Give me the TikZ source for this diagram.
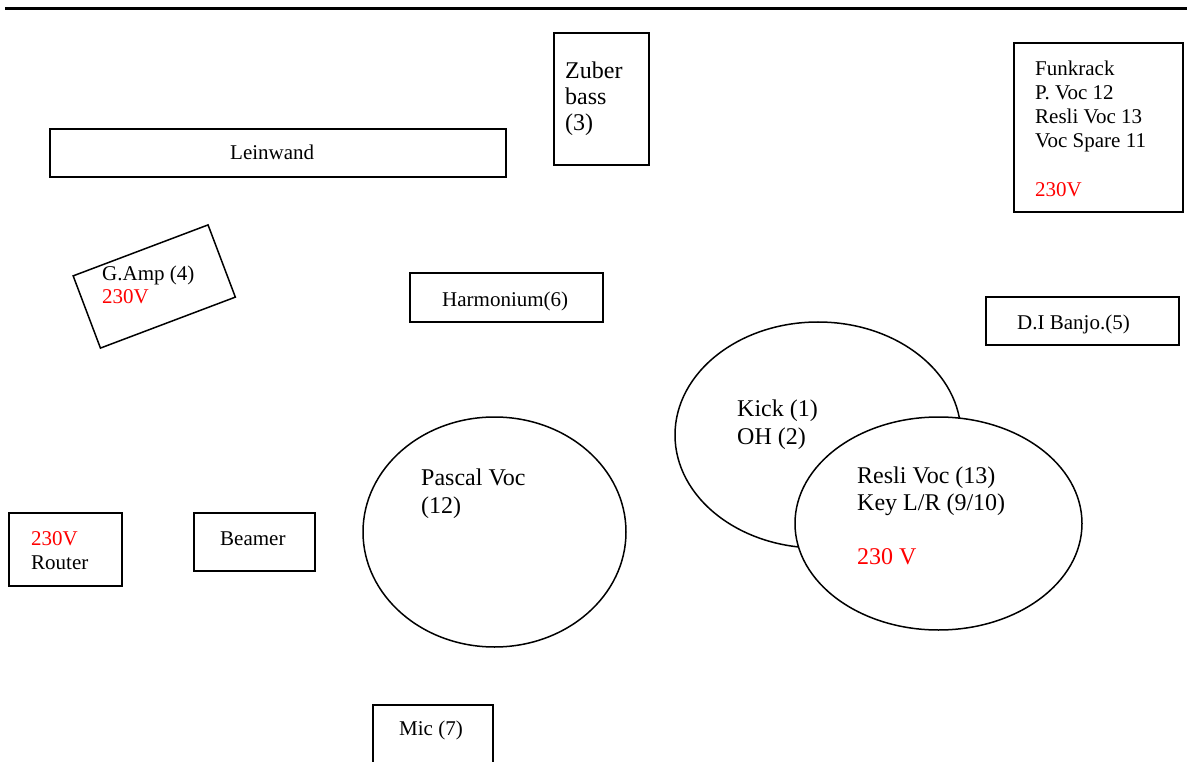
\documentclass[tikz,border=0pt]{standalone}
\usepackage{fontspec}
\setmainfont{Liberation Serif}
\begin{document}
\begin{tikzpicture}[x=1pt,y=-1pt,
  boxline/.style={line width=1.5pt,draw=black},
  sm/.style={inner sep=0pt,anchor=base west,font=\fontsize{21}{25}\selectfont},
  lg/.style={inner sep=0pt,anchor=base west,font=\fontsize{24}{28}\selectfont},
  pw/.style={text=red}]
\useasboundingbox (0,0) rectangle (1187,762);
\clip (0,0) rectangle (1187,762);
% top rule
\coordinate (ruleL) at (5,8.5);
\coordinate (ruleR) at (1187,8.5);
\draw[line width=2.2pt] (ruleL) -- (ruleR);
% Leinwand
\draw[boxline] (50,129) rectangle (506,177);
\node[sm] (lein) at (230,160) {Leinwand};
% Zuber bass
\draw[boxline] (554,33) rectangle (649,165);
\node[lg] (zub1) at (565,79) {Zuber};
\node[lg] (zub2) at (565,105) {bass};
\node[lg] (zub3) at (565,131) {(3)};
% Funkrack
\draw[boxline] (1014,43) rectangle (1183,212);
\node[sm] (fr1) at (1035,76) {Funkrack};
\node[sm] (fr2) at (1035,100) {P. Voc 12};
\node[sm] (fr3) at (1035,124) {Resli Voc 13};
\node[sm] (fr4) at (1035,148) {Voc Spare 11};
\node[sm,pw] (fr5) at (1035,197) {230V};
% G.Amp (rotated box)
\draw[boxline] (73.16,275.87) -- (208.06,224.91) -- (235.34,297.13) -- (100.44,348.09) -- cycle;
\node[sm] (ga1) at (102,281) {G.Amp (4)};
\node[sm,pw] (ga2) at (102,304) {230V};
% Harmonium
\draw[boxline] (410,273) rectangle (603,322);
\node[sm] (harm) at (442,306) {Harmonium(6)};
% D.I Banjo
\draw[boxline] (986,297) rectangle (1179,345);
\node[sm] (banjo) at (1017,330) {D.I Banjo.(5)};
% Kick ellipse
\draw[boxline] (818,435) ellipse [x radius=143pt, y radius=113pt];
\node[lg] (kick1) at (737,416) {Kick (1)};
\node[lg] (kick2) at (737,444) {OH (2)};
% Resli ellipse
\draw[boxline,fill=white] (938.5,523.5) ellipse [x radius=143.5pt, y radius=106.5pt];
\node[lg] (res1) at (857,483) {Resli Voc (13)};
\node[lg] (res2) at (857,510) {Key L/R (9/10)};
\node[lg,pw] (res3) at (857,564) {230 V};
% Pascal ellipse
\draw[boxline] (494.5,532) ellipse [x radius=131.5pt, y radius=115pt];
\node[lg] (pas1) at (421,485) {Pascal Voc};
\node[lg] (pas2) at (421,513) {(12)};
% Router
\draw[boxline] (9,513) rectangle (122,586);
\node[sm,pw] (rt1) at (31,545) {230V};
\node[sm] (rt2) at (31,569) {Router};
% Beamer
\draw[boxline] (194,513) rectangle (315,571);
\node[sm] (beam) at (220,545) {Beamer};
% Mic
\draw[boxline] (373,705) rectangle (493,775);
\node[sm] (mic) at (399,735) {Mic (7)};
\end{tikzpicture}
\end{document}
